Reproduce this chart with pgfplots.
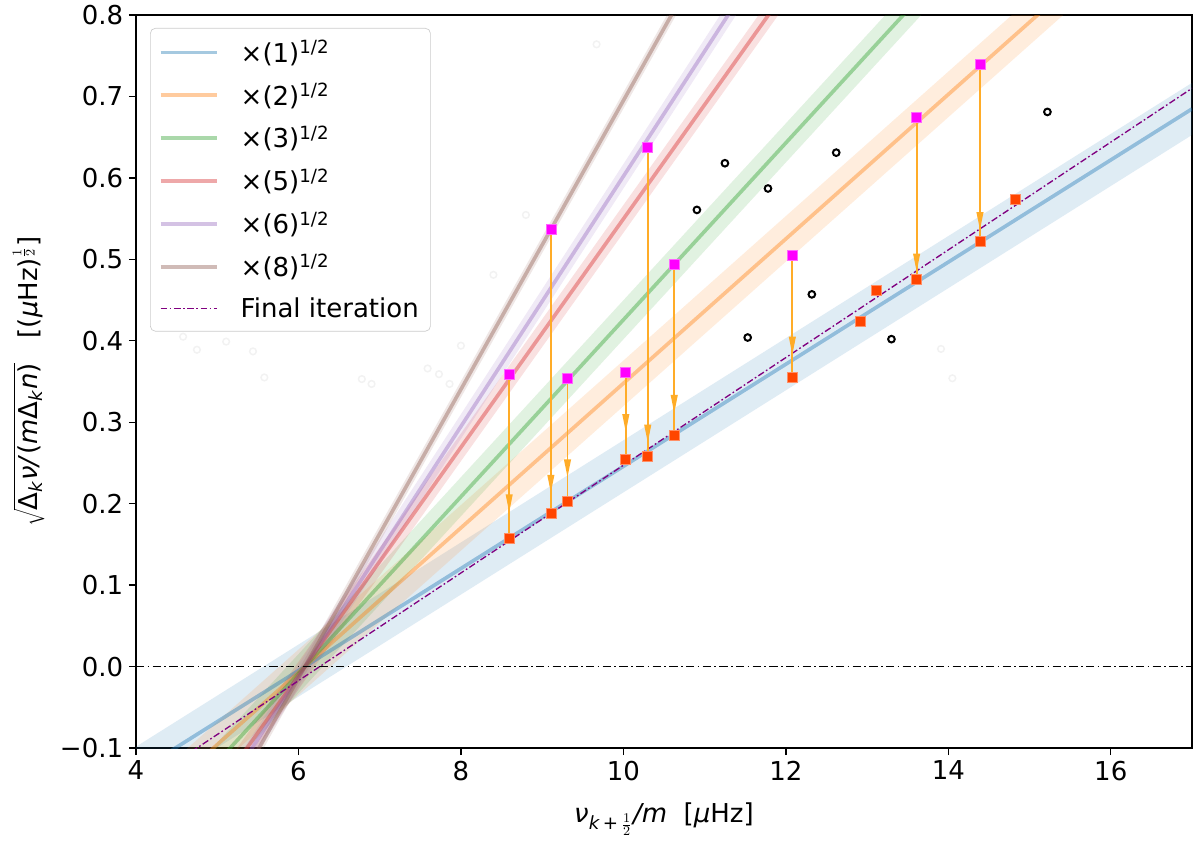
\documentclass[border=0pt]{standalone}
\usepackage{fontspec}
\setmainfont{DejaVu Sans}
\usepackage{pgfplots}
\pgfplotsset{compat=1.18}
\usetikzlibrary{arrows.meta}
\definecolor{tabblue}{HTML}{1F77B4}
\definecolor{taborange}{HTML}{FF7F0E}
\definecolor{tabgreen}{HTML}{2CA02C}
\definecolor{tabred}{HTML}{D62728}
\definecolor{tabpurple}{HTML}{9467BD}
\definecolor{tabbrown}{HTML}{8C564B}
\definecolor{finalc}{HTML}{800080}
\definecolor{arrowc}{RGB}{255,172,40}
\definecolor{magentac}{HTML}{FF00FF}
\definecolor{orangered}{HTML}{FF4500}

\pgfplotstableread{
x y
8.594 0.359
9.107 0.537
9.312 0.354
10.03 0.361
10.30 0.637
10.626 0.494
12.08 0.5045
13.61 0.674
14.39 0.740
}\initial

\pgfplotstableread{
x y
8.594 0.158
9.107 0.188
9.312 0.203
10.03 0.2545
10.30 0.2586
10.626 0.284
12.08 0.3556
12.916 0.4235
13.11 0.4616
13.61 0.4756
14.39 0.5226
14.83 0.5738
}\final

\pgfplotstableread{
x y d v
8.594 0.359 -0.201 -0.170
9.107 0.537 -0.349 -0.324
9.312 0.354 -0.151 -0.122
10.03 0.361 -0.1065 -0.0735
10.30 0.637 -0.3784 -0.3624
10.626 0.494 -0.210 -0.183
12.08 0.5045 -0.1489 -0.1219
13.61 0.674 -0.1984 -0.1894
14.39 0.740 -0.2174 -0.2044
}\moves

\pgfplotstableread{
x y
10.905 0.5607
11.25 0.618
11.53 0.404
11.78 0.587
12.32 0.457
12.62 0.631
13.30 0.402
15.22 0.681
}\blackpts

\pgfplotstableread{
x y
4.58 0.405
4.75 0.389
5.11 0.399
5.44 0.387
5.58 0.355
6.78 0.353
6.90 0.347
7.59 0.366
7.73 0.359
7.86 0.347
8.00 0.394
8.40 0.481
8.80 0.5545
9.67 0.764
13.91 0.390
14.05 0.354
}\faintpts

\begin{document}
\begin{tikzpicture}[font=\fontsize{15.6}{18.7}\selectfont]
\begin{axis}[
  scale only axis, width=633.6pt, height=439.8pt,
  xmin=4, xmax=17, ymin=-0.1, ymax=0.8,
  xtick={4,6,8,10,12,14,16}, xticklabels={4,6,8,10,12,14,16},
  ytick={-0.1,0,0.1,0.2,0.3,0.4,0.5,0.6,0.7,0.8},
  yticklabels={−0.1,0.0,0.1,0.2,0.3,0.4,0.5,0.6,0.7,0.8},
  tick align=outside, xtick pos=bottom, ytick pos=left,
  major tick length=4.2pt,
  every tick/.style={black, line width=0.8pt},
  axis line style={line width=0.8pt},
  every axis x label/.style={at={(rel axis cs:0.5,0)}, anchor=base, yshift=-44.4pt},
  every axis y label/.style={at={(rel axis cs:0,0.5)}, xshift=-59.2pt, rotate=90, anchor=base},
  xlabel={\textit{ν}\textsubscript{\textit{k}\,+\,$\frac{1}{2}$}\textit{/m}\ \ [\textit{μ}Hz]},
  ylabel={$\sqrt{\mbox{Δ\textsubscript{\textit{k}}\textit{ν/}(\textit{m}Δ\textsubscript{\textit{k}}\textit{n})}}$\ \ \ [(\textit{μ}Hz)$^{\frac{1}{2}}$]},
  legend style={at={(rel axis cs:0.0133,0.9823)}, anchor=north west,
    draw=black!20, rounded corners=3pt, fill=white, fill opacity=0.8, text opacity=1,
    inner xsep=5pt, inner ysep=5pt, row sep=6.9pt,
    nodes={inner sep=2pt}},
  legend cell align=left,
  legend image code/.code={\draw[#1] (0pt,0pt) -- (34pt,0pt);},
  /tikz/every even column/.append style={column sep=6pt},
  /tikz/every odd column/.append style={column sep=11pt},
]
% bands
\addplot[draw=none, fill=tabblue, fill opacity=0.14, forget plot] coordinates {(4,-0.1624) (17,0.6527) (17,0.7167) (4,-0.0984)} -- cycle;
\addplot[draw=none, fill=taborange, fill opacity=0.14, forget plot] coordinates {(4,-0.2125) (17,0.9406) (17,0.9966) (4,-0.1565)} -- cycle;
\addplot[draw=none, fill=tabgreen, fill opacity=0.14, forget plot] coordinates {(4,-0.2499) (17,1.162) (17,1.210) (4,-0.2019)} -- cycle;
\addplot[draw=none, fill=tabred, fill opacity=0.14, forget plot] coordinates {(4,-0.3086) (17,1.514) (17,1.548) (4,-0.2746)} -- cycle;
\addplot[draw=none, fill=tabpurple, fill opacity=0.14, forget plot] coordinates {(4,-0.3345) (17,1.662) (17,1.692) (4,-0.3045)} -- cycle;
\addplot[draw=none, fill=tabbrown, fill opacity=0.14, forget plot] coordinates {(4,-0.3788) (17,1.926) (17,1.946) (4,-0.3588)} -- cycle;
% lines
\addplot[tabblue, draw opacity=0.4, line width=2.2pt] coordinates {(4,-0.1304) (17,0.6847)};
\addlegendentry{×(1)\textsuperscript{1/2}}
\addplot[taborange, draw opacity=0.4, line width=2.2pt] coordinates {(4,-0.1845) (17,0.9686)};
\addlegendentry{×(2)\textsuperscript{1/2}}
\addplot[tabgreen, draw opacity=0.4, line width=2.2pt] coordinates {(4,-0.2259) (17,1.186)};
\addlegendentry{×(3)\textsuperscript{1/2}}
\addplot[tabred, draw opacity=0.4, line width=2.2pt] coordinates {(4,-0.2916) (17,1.531)};
\addlegendentry{×(5)\textsuperscript{1/2}}
\addplot[tabpurple, draw opacity=0.4, line width=2.2pt] coordinates {(4,-0.3195) (17,1.677)};
\addlegendentry{×(6)\textsuperscript{1/2}}
\addplot[tabbrown, draw opacity=0.4, line width=2.2pt] coordinates {(4,-0.3688) (17,1.936)};
\addlegendentry{×(8)\textsuperscript{1/2}}
% zero line
\addplot[black, line width=0.5pt, dash pattern=on 5pt off 2pt on 1pt off 2pt, forget plot] coordinates {(4,0) (17,0)};
% final iteration
\addplot[finalc, line width=0.8pt, dash pattern=on 4pt off 1.5pt on 1pt off 1.5pt] coordinates {(4,-0.1496) (17,0.710)};
\addlegendentry{Final iteration}
% faint circles
\addplot[only marks, mark=o, mark size=2pt, black!5, mark options={line width=0.9pt}, forget plot] table[x=x,y=y] {\faintpts};
% black circles
\addplot[only marks, mark=o, mark size=2pt, black, mark options={line width=1.2pt}, forget plot] table[x=x,y=y] {\blackpts};
% arrows
\addplot[forget plot, quiver={u=0, v=\thisrow{d}}, arrowc, line width=1.1pt] table[x=x,y=y] {\moves};
\addplot[forget plot, quiver={u=0, v=\thisrow{v}}, arrowc, line width=1.1pt, -{Triangle[length=11pt,width=4pt]}] table[x=x,y=y] {\moves};
% squares
\addplot[only marks, mark=square*, mark size=3pt, mark options={fill=magentac, draw=magentac!60!white, line width=0.4pt}, forget plot] table[x=x,y=y] {\initial};
\addplot[only marks, mark=square*, mark size=3pt, mark options={fill=orangered, draw=orangered!60!white, line width=0.4pt}, forget plot] table[x=x,y=y] {\final};
\end{axis}
\pgfresetboundingbox
\useasboundingbox (-81.6pt,-58.2pt) rectangle (638.4pt,448.8pt);
\end{tikzpicture}
\end{document}
